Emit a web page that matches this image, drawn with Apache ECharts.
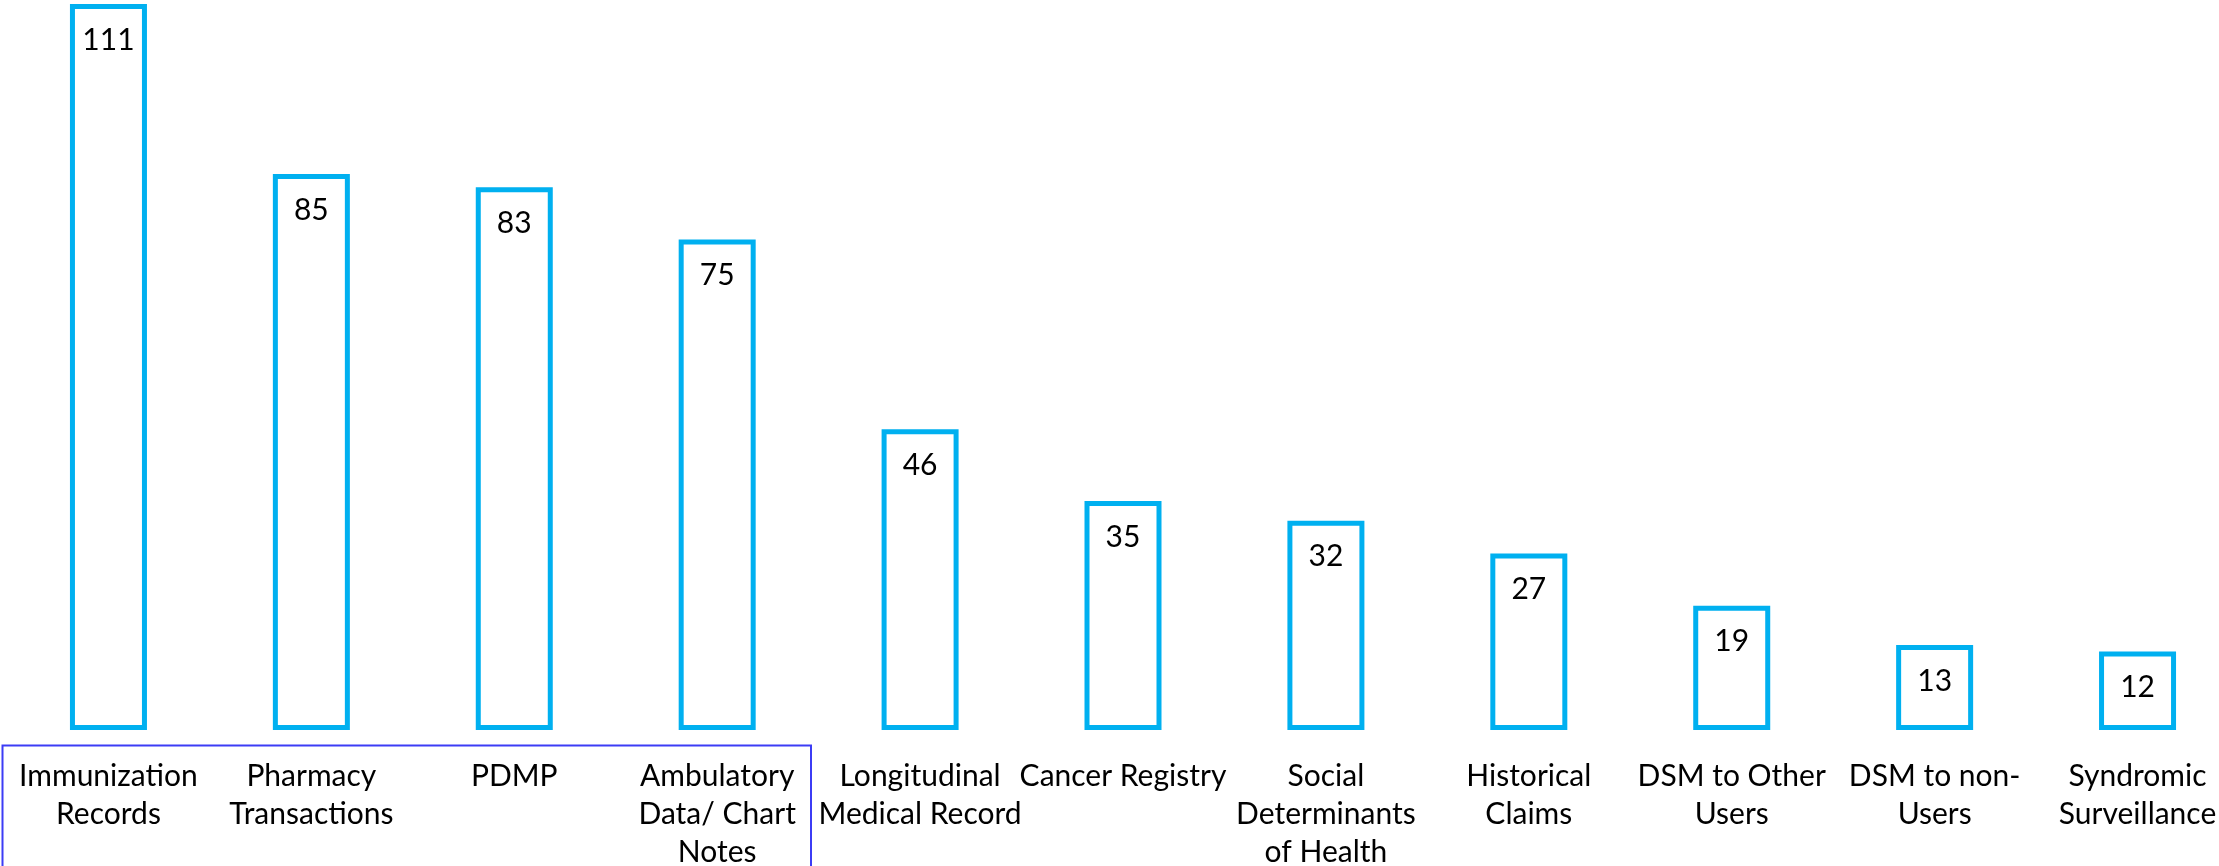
<!DOCTYPE html>
<html>
<head>
<meta charset="utf-8">
<script src="https://cdn.jsdelivr.net/npm/echarts@6/dist/echarts.min.js"></script>
<style>
  html, body { margin: 0; padding: 0; background: #ffffff; }
  #chart { width: 2219px; height: 866px; }
</style>
</head>
<body>
<div id="chart"></div>
<script>
const categories = [
  'Immunization\nRecords',
  'Pharmacy\nTransactions',
  'PDMP',
  'Ambulatory\nData/ Chart\nNotes',
  'Longitudinal\nMedical Record',
  'Cancer Registry',
  'Social\nDeterminants\nof Health',
  'Historical\nClaims',
  'DSM to Other\nUsers',
  'DSM to non-\nUsers',
  'Syndromic\nSurveillance'
];
const counts = [111, 85, 83, 75, 46, 35, 32, 27, 19, 13, 12];

const FONT = 'Lato, "Open Sans", sans-serif';
const chart = echarts.init(document.getElementById('chart'));
chart.setOption({
  animation: false,
  backgroundColor: '#ffffff',
  grid: { left: 7, right: -20, top: 4, bottom: 136, outerBoundsMode: 'none', containLabel: false },
  xAxis: {
    type: 'category',
    data: categories,
    axisLine: { show: false },
    axisTick: { show: false },
    axisLabel: {
      interval: 0,
      margin: 27,
      color: '#000000',
      fontFamily: FONT,
      fontSize: 30,
      lineHeight: 38
    },
    splitLine: { show: false }
  },
  yAxis: {
    type: 'value',
    min: 0,
    max: Math.max(...counts),
    show: false,
    splitLine: { show: false }
  },
  series: [{
    type: 'bar',
    data: counts,
    barWidth: 77,
    itemStyle: { color: '#ffffff', borderColor: '#00B0F0', borderWidth: 5 },
    label: {
      show: true,
      position: 'insideTop',
      distance: 21,
      color: '#000000',
      fontFamily: FONT,
      fontSize: 30
    }
  }],
  graphic: [{
    type: 'rect',
    shape: { x: 2.5, y: 745.5, width: 808.5, height: 140 },
    style: { fill: 'none', stroke: '#3c3cf5', lineWidth: 2 },
    silent: true
  }]
});
</script>
</body>
</html>
